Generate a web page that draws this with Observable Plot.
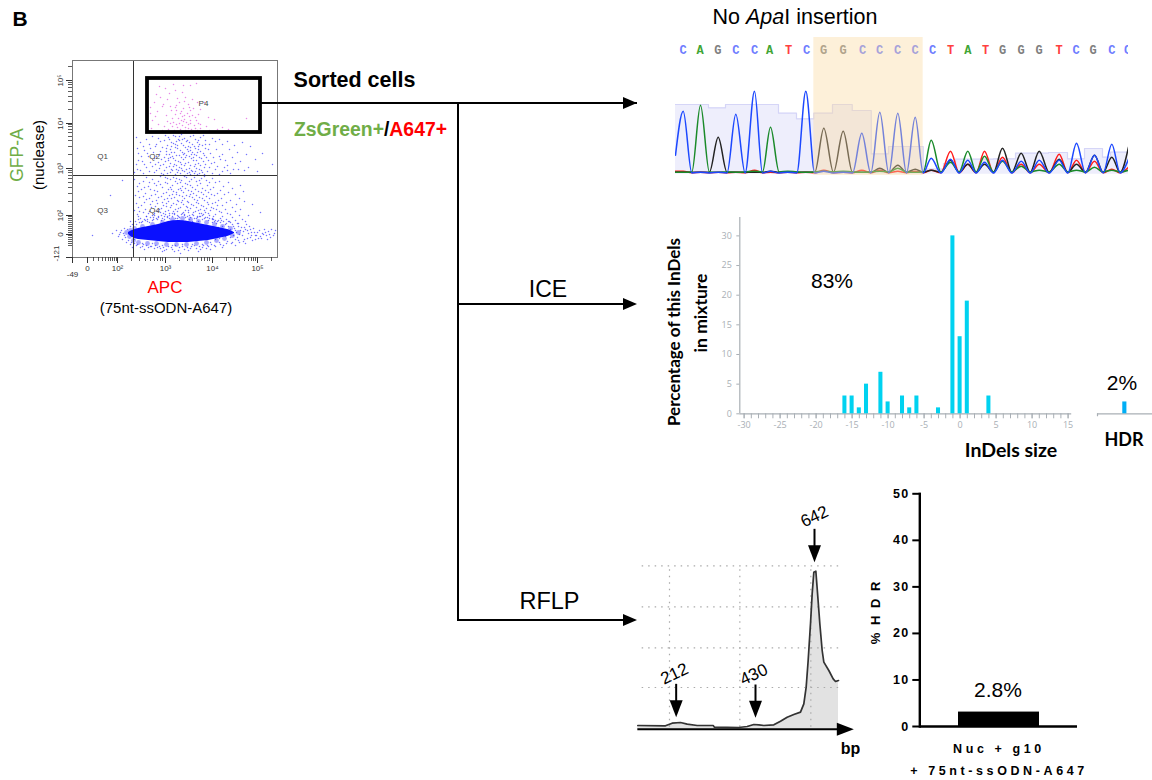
<!DOCTYPE html>
<html><head><meta charset="utf-8">
<script src="https://cdn.jsdelivr.net/npm/d3@7"></script>
<script src="https://cdn.jsdelivr.net/npm/@observablehq/plot@0.6"></script>
<style>
html,body{margin:0;padding:0;background:#fff}
#page{position:relative;width:1152px;height:780px;overflow:hidden;font-family:"Liberation Sans",Arial,sans-serif;color:#000}
#page>svg,#page>figure{position:absolute;margin:0;background:transparent}
.t{position:absolute;white-space:nowrap;transform-origin:center}
.ln{position:absolute;background:#000}
.hd{position:absolute;width:0;height:0;border-left:14px solid #000;border-top:6.5px solid transparent;border-bottom:6.5px solid transparent}
.hdrbar g[aria-label="x-axis tick label"] text{letter-spacing:3.6px}
.hdrbar g[aria-label="y-axis tick label"] text{letter-spacing:1.5px}
</style></head><body><div id="page"></div>
<script>
// ---------- flow cytometry (APC channel, GFP channel) ----------
const p4Cells=[[124,174],[101,173],[87,171],[93,169],[103,167],[110,165],[118,172],[111,172],[84,163],[97,164],[105,159],[113,160],[90,151],[91,153],[78,150],[103,150],[111,149],[118,147],[108,144],[103,143],[115,144],[120,142],[78,144],[85,146],[94,142],[100,139],[106,139],[112,138],[118,137],[124,137],[98,134],[104,133],[110,132],[116,133],[122,132],[128,133],[134,131],[92,131],[86,133],[80,137],[79,129],[90,127],[96,128],[102,127],[108,128],[113,127],[119,128],[125,127],[131,126],[137,127],[145,128],[150,130],[156,128],[174,139],[128,148],[132,155],[125,155],[136,140],[142,138],[107,155],[95,158],[116,153],[120,158],[82,155],[88,160],[99,147],[104,147],[109,137],[114,135],[121,149],[126,143],[117,141],[112,142],[105,130],[100,131],[95,136],[107,134],[113,130],[118,134],[123,129],[111,136],[106,126],[115,126],[121,126],[101,135],[126,134],[109,146],[117,150],[104,152],[112,156],[98,151],[83,141],[123,140],[116,129],[110,141],[128,129]];
const q2Cells=[[96,120],[101,122],[107,121],[112,119],[118,121],[123,118],[128,120],[133,117],[92,117],[86,119],[80,121],[74,118],[68,115],[64,120],[140,119],[147,118],[155,116],[162,112],[170,115],[178,111],[190,104],[200,93],[99,115],[104,116],[109,114],[114,116],[120,113],[125,115],[130,112],[95,112],[90,110],[84,113],[78,109],[72,107],[66,104],[98,108],[103,110],[108,107],[113,110],[118,107],[123,109],[128,106],[133,109],[138,104],[144,108],[150,103],[160,100],[168,96],[97,103],[102,105],[107,102],[112,104],[117,101],[122,103],[127,100],[132,102],[92,100],[87,103],[82,99],[76,101],[70,96],[64,93],[136,97],[142,95],[148,98],[155,92],[176,90],[185,86],[96,97],[101,99],[106,96],[111,98],[116,95],[121,97],[126,94],[131,96],[91,93],[86,95],[80,91],[74,90],[68,87],[62,85],[137,90],[143,88],[150,86],[158,84],[166,88],[97,91],[102,93],[107,90],[112,92],[117,89],[122,91],[127,88],[132,90],[92,87],[87,89],[82,85],[100,87],[105,85],[110,87],[115,84],[120,86],[125,83],[130,85],[95,84],[103,83],[113,82],[118,83],[123,86],[110,118],[105,112],[116,111],[100,101],[119,99],[109,93],[104,88],[124,102],[94,106],[126,111]];
const q2More=[[103,121],[109,123],[115,117],[121,122],[126,117],[97,118],[93,122],[88,116],[83,111],[77,113],[71,111],[65,109],[131,122],[137,113],[143,116],[150,113],[157,108],[165,105],[174,103],[183,98],[101,114],[106,118],[111,112],[117,115],[122,111],[127,113],[133,113],[94,109],[88,106],[81,105],[75,104],[69,101],[99,111],[105,109],[110,105],[115,108],[120,105],[126,108],[131,104],[136,108],[141,100],[147,101],[153,97],[163,94],[172,87],[94,103],[99,105],[104,102],[109,100],[114,102],[119,103],[124,97],[129,99],[134,100],[89,98],[84,101],[78,95],[72,93],[66,97],[139,94],[145,91],[152,90],[161,88],[93,96],[98,94],[103,97],[108,95],[113,94],[118,92],[123,93],[128,92],[133,93],[88,92],[83,93],[77,86],[71,84],[65,88],[135,86],[140,84],[147,83],[155,87],[94,90],[99,88],[104,92],[109,89],[114,88],[119,87],[124,89],[129,87],[89,84],[84,87],[98,85],[108,84],[112,86],[117,85],[122,84],[127,84],[132,83],[91,83],[101,91],[106,87],[96,99],[111,103],[116,106],[121,100],[103,113],[113,100],[125,105],[107,117],[98,100],[118,110]];
const q4Cells=[[93,80],[98,78],[104,79],[109,77],[114,80],[119,78],[124,76],[129,79],[134,77],[86,76],[80,78],[74,80],[67,74],[62,78],[140,79],[147,76],[156,75],[168,72],[50,77],[38,62],[95,74],[100,72],[105,74],[110,71],[115,73],[120,70],[125,72],[130,69],[135,72],[90,70],[84,72],[78,68],[72,70],[66,66],[141,70],[148,67],[156,65],[163,63],[96,68],[101,66],[106,68],[111,65],[116,67],[121,64],[126,66],[131,63],[136,65],[91,64],[85,66],[79,62],[73,64],[67,60],[64,54],[142,62],[149,59],[158,57],[172,56],[97,62],[102,60],[107,62],[112,59],[117,61],[122,58],[127,60],[132,57],[137,59],[92,58],[86,60],[80,56],[74,58],[69,52],[143,55],[150,52],[160,50],[168,48],[180,53],[96,56],[101,54],[106,56],[111,53],[116,55],[121,52],[126,54],[131,51],[136,53],[91,52],[85,54],[79,50],[73,48],[67,46],[141,49],[147,46],[155,44],[176,42],[188,45],[98,50],[103,48],[108,50],[113,47],[118,49],[123,46],[128,48],[133,45],[138,47],[93,46],[87,48],[82,44],[76,44],[143,43],[150,41],[160,40],[170,38],[100,44],[105,42],[110,44],[115,41],[120,43],[125,40],[130,42],[135,40],[95,41],[89,42],[84,39],[78,40],[72,38],[66,41],[140,38],[146,37],[156,36],[108,75],[113,69],[104,65],[118,63],[110,57],[99,59],[124,55],[115,50],[105,46],[127,44],[94,51],[88,45],[132,47],[103,39],[117,38],[97,44],[107,37],[126,36],[113,36],[92,38]];
const q4More=[[88,81],[95,79],[101,80],[107,78],[112,81],[117,76],[122,80],[127,77],[132,81],[137,75],[82,74],[77,75],[71,76],[65,71],[143,75],[151,71],[160,69],[171,66],[93,75],[98,70],[103,76],[108,69],[113,74],[118,72],[123,68],[128,74],[133,67],[88,73],[82,67],[76,71],[69,68],[63,62],[138,68],[145,64],[152,63],[167,59],[94,65],[99,68],[104,63],[109,67],[114,62],[119,66],[124,62],[129,65],[134,61],[89,61],[83,63],[77,59],[71,61],[139,63],[146,57],[154,55],[164,53],[95,59],[100,63],[105,57],[110,61],[115,56],[120,60],[125,57],[130,59],[135,55],[90,55],[84,57],[78,53],[72,55],[66,50],[62,47],[140,54],[145,52],[153,48],[163,46],[94,54],[99,52],[104,53],[109,55],[114,51],[119,53],[124,50],[129,52],[134,49],[89,49],[83,51],[77,46],[71,45],[65,43],[139,50],[144,48],[149,45],[158,43],[167,42],[96,47],[101,46],[106,49],[111,45],[116,47],[121,45],[126,47],[131,43],[136,44],[91,44],[85,46],[80,42],[74,41],[68,39],[141,41],[148,39],[154,38],[163,37],[173,36],[97,42],[102,44],[107,40],[112,43],[117,42],[122,39],[127,41],[132,39],[137,42],[92,41],[86,40],[81,38],[75,36],[69,35],[143,37],[151,36],[158,35],[166,34]];
const haloCells=[[70,36],[75,38],[80,37],[85,38],[90,39],[95,40],[100,41],[106,41],[112,42],[118,40],[124,39],[130,38],[136,37],[142,36],[148,35],[154,34],[160,33],[166,31],[172,30],[178,28],[64,33],[58,31],[52,29],[48,25],[46,21],[50,18],[54,15],[58,13],[64,12],[70,11],[76,10],[82,9],[88,9],[94,8],[100,8],[106,7],[112,8],[118,9],[124,9],[130,10],[136,11],[142,12],[148,13],[154,14],[160,15],[166,17],[172,18],[178,20],[184,22],[190,24],[196,26],[202,24],[198,20],[192,28],[186,19],[176,24],[170,22],[164,25],[158,20],[162,29],[168,27],[174,33],[156,31],[182,25],[188,21],[194,22],[180,17],[173,14],[163,12],[150,10],[138,8],[126,6],[108,4],[90,6],[72,8],[60,10],[52,22],[44,27],[40,24],[20,22],[58,36],[66,38],[74,41],[82,42],[150,31],[140,39],[120,36],[128,41]];
const haloMore=[[47,23],[49,27],[51,24],[53,20],[55,28],[56,17],[57,25],[59,15],[60,33],[62,14],[63,36],[65,13],[67,35],[68,10],[71,13],[73,37],[74,12],[77,35],[79,11],[81,40],[83,12],[86,41],[87,11],[89,37],[91,10],[93,43],[96,11],[97,39],[99,10],[102,43],[103,12],[105,39],[107,10],[109,43],[110,11],[113,40],[115,10],[116,45],[119,11],[121,42],[122,12],[125,41],[127,11],[129,44],[131,12],[133,40],[135,12],[137,39],[139,13],[141,38],[143,11],[145,36],[147,15],[149,37],[151,12],[153,33],[155,16],[157,36],[159,14],[161,31],[163,18],[165,34],[167,15],[169,30],[171,16],[173,28],[175,19],[177,31],[179,22],[181,29],[183,18],[185,25],[187,27],[189,19],[191,23],[193,25],[195,18],[197,23],[199,28],[201,22],[203,27],[155,27],[157,23],[149,27],[161,22],[165,20],[167,23],[171,26],[175,27],[179,25],[183,22],[163,27],[153,21],[147,19],[143,18],[138,15],[130,13],[120,13],[110,13],[100,12],[90,12],[80,14],[70,14],[62,18],[152,25],[158,28],[146,30],[148,22],[144,34],[140,35],[78,11],[85,10],[92,7],[102,6],[116,7],[128,8],[134,9]];
// outline of the saturated event population, read per APC channel
const coreApc=[56,60,66,76,86,96,106,116,126,136,146,155,162];
const coreGfpHigh=[25,27,29,31,33,36,37,36,34,32,30,28,25];
const coreGfpLow=[23,20,18,17,16,15,15,15,16,17,19,21,24];
const fringeCells=[[54,25],[57,21],[61,17],[66,15],[75,14],[84,14],[94,13],[104,13],[114,13],[124,14],[134,15],[144,17],[152,19],[160,22],[166,25],[158,29],[150,31],[142,33],[134,35],[126,36],[118,38],[110,39],[100,38],[90,35],[80,33],[70,31],[62,29],[58,27]];
const gfpMajor=[[23,"0"],[42,"10²"],[89,"10³"],[134,"10⁴"],[177,"10⁵"]];
const gfpEdge=[[0,"-121"]];
const gfpMinor=[12,14,16,18,20,22,25,27,29,31,33,35,37,39,41,56,64,70,75,79,82,85,87,103,111,117,121,125,128,131,133,148,156,161,166,170,173,175,191];
const apcMajor=[[15,"0"],[45,"10²"],[93,"10³"],[140,"10⁴"],[185,"10⁵"]];
const apcEdge=[[0,"-49"]];
const apcMinor=[21,26,30,33,36,38,40,42,44,59,67,73,78,82,85,88,90,107,115,120,125,129,132,135,137,154,162,167,172,176,179,181,183,199];
const quadrants=[["Q1",30,101],["Q2",82,101],["Q3",30,47],["Q4",82,47],["P4",131,154]];

// ---------- chromatogram ----------
const baseCalls=["C","A","G","C","C","A","T","C","G","G","C","C","C","C","C","T","A","T","G","G","G","T","C","G","C","C"];
const baseScan=[7.7,24.5,42.3,60.3,79,94,113,131,148,167.5,187,204,222,239.5,257,275,292.3,310,327,345.5,363.5,383.5,400.5,417.5,436.3,452];
const peakScan=[7.7,25,42.7,60.3,79,95,112.3,130.3,148.3,167.7,186.3,204.3,222.3,239.7,255.7,275,292.3,309,327,345.7,363.7,383.7,401,419,436.3,453];
const blueSignal=[62,1,1,59,82,2,1,82,2,1,40,61,60,56,15,14,13,11,13,12,13,13,30,18,29,14];
const greenSignal=[1,68,1,1,2,46,2,1,2,2,1,2,5,1,33,11,22,17,12,7,3,9,3,6,3,3];
const blackSignal=[1,1,36,1,1,2,1,1,45,42,1,5,8,4,3,13,9,9,25,20,22,14,9,18,16,26];
const redSignal=[2,1,1,1,3,1,1,1,3,1,3,3,2,2,3,22,9,22,16,9,9,19,13,12,4,6];
const qualScan=[0,33,50,103,121,138.3,157,176.7,195.7,213,247.7,268,280,318,340,373,392,409,427,435,453];
const qualValue=[68.7,65.4,68.7,60,54.4,60,68.7,62.7,19.4,26.7,4,9.7,14,14.4,20,20.7,14.4,24.7,16,21,25];

// ---------- ICE ----------
const indelSize=[-16,-15,-14,-13,-11,-10,-8,-7,-6,-3,-1,0,1,4];
const indelPct=[3,3,1,5,7,2,3,1,3,1,30,13,19,3];
const indelTicks=[-30,-29,-28,-27,-26,-25,-24,-23,-22,-21,-20,-19,-18,-17,-16,-15,-14,-13,-12,-11,-10,-9,-8,-7,-6,-5,-4,-3,-2,-1,0,1,2,3,4,5,6,7,8,9,10,11,12,13,14,15];
const indelLabels=[-30,-25,-20,-15,-10,-5,0,5,10,15];
const pctTicks=[0,5,10,15,20,25,30];
const hdrIce=2;

// ---------- RFLP electropherogram (migration, signal) ----------
const migration=[22,105,125,150,170,200,248,252,325,350,370,385,400,430,450,470,490,510,520,527,533,540,545,550,556,562,568,575,580,595,608,615,624];
const rfu=[11,10,18,20,15,11,11,6,5,8,14,13,11,13,24,36,44,51,76,126,206,316,406,471,474,396,316,236,201,176,151,143,146];
const gridMigration=[117,328,541];
const gridSignal=[490,367,244,125];
const fragments=[["212",137,136],["430",375,134],["642",552,601]];

// ---------- %HDR bar ----------
const hdrCategory=["Nuc + g10\n+ 75nt-ssODN-A647"];
const hdrPct=[3.1];
const hdrTicks=[0,10,20,30,40,50];

const page=document.getElementById("page");
function place(svg,x,y){svg.style.left=x+"px";svg.style.top=y+"px";page.appendChild(svg);}
function txt(html,x,y,css=""){const d=document.createElement("div");d.className="t";d.innerHTML=html;d.style.cssText=`left:${x}px;top:${y}px;`+css;d.style.transform="translate(-50%,-50%)";page.appendChild(d);return d;}
function vtxt(html,x,y,css=""){const d=txt(html,x,y,css);d.style.transform="translate(-50%,-50%) rotate(-90deg)";return d;}
function ln(x,y,w,h){const d=document.createElement("div");d.className="ln";d.style.cssText=`left:${x}px;top:${y}px;width:${w}px;height:${h}px`;page.appendChild(d);}
function head(x,y){const d=document.createElement("div");d.className="hd";d.style.left=(x-14)+"px";d.style.top=(y-6.5)+"px";page.appendChild(d);}

// ---------- flow panel ----------
const cell=([x,y])=>({x,y});
const tickGray="#333";
const speck={x:"x",y:"y",r:0.75,fill:"#2a2aff",fillOpacity:.65};
const core=coreApc.map((x,i)=>({x,hi:coreGfpHigh[i],lo:coreGfpLow[i]}));
place(Plot.plot({
  width:240,height:235,marginLeft:27,marginRight:8,marginTop:10,marginBottom:28,
  style:{fontFamily:"Liberation Sans",background:"transparent"},
  x:{domain:[0,205],axis:null},y:{domain:[0,197],axis:null},
  marks:[
    Plot.dot(haloCells.concat(haloMore).map(cell),speck),
    Plot.dot(q4Cells.concat(q4More).map(cell),speck),
    Plot.dot(q2Cells.concat(q2More).map(cell),speck),
    Plot.dot(fringeCells.map(cell),{x:"x",y:"y",r:2.4,fill:"#2a2aff",fillOpacity:.4}),
    Plot.areaY(core,{x:"x",y1:"lo",y2:"hi",curve:"catmull-rom",fill:"#0a10ff"}),
    Plot.dot(p4Cells.map(cell),{x:"x",y:"y",r:0.75,fill:"#e060e0",fillOpacity:.75}),
    Plot.ruleX([61],{stroke:"#333",strokeWidth:1}),
    Plot.ruleY([82],{stroke:"#333",strokeWidth:1}),
    Plot.frame({stroke:"#777",strokeWidth:1}),
    Plot.rect([0],{x1:()=>75,x2:()=>188,y1:()=>125,y2:()=>179,stroke:"#000",strokeWidth:3.8,fill:"none"}),
    Plot.text(quadrants,{x:d=>d[1],y:d=>d[2],text:d=>d[0],fontSize:8,fill:"#444"}),
    Plot.ruleX(apcMajor.concat(apcEdge),{x:d=>d[0],y1:()=>-6,y2:()=>0,stroke:tickGray,strokeWidth:1}),
    Plot.ruleX(apcMinor,{y1:()=>-4,y2:()=>0,stroke:tickGray,strokeWidth:.8}),
    Plot.ruleY(gfpMajor.concat(gfpEdge),{y:d=>d[0],x1:()=>-6,x2:()=>0,stroke:tickGray,strokeWidth:1}),
    Plot.ruleY(gfpMinor,{x1:()=>-4,x2:()=>0,stroke:tickGray,strokeWidth:.8}),
    Plot.text(apcMajor,{x:d=>d[0],y:()=>-11,text:d=>d[1],fontSize:8,fill:"#333"}),
    Plot.text(apcEdge,{x:d=>d[0],y:()=>-17,text:d=>d[1],fontSize:8,fill:"#333"}),
    Plot.text(gfpMajor,{x:()=>-12,y:d=>d[0],text:d=>d[1],rotate:-90,fontSize:8,fill:"#333"}),
    Plot.text(gfpEdge,{x:()=>-16,y:()=>4,text:d=>d[1],rotate:-90,fontSize:8,fill:"#333"})
  ]
}),45,50);

// ---------- chromatogram panel ----------
const trace=(heights,floor)=>peakScan.flatMap((s,i)=>{
  const next=peakScan[i+1];
  const pts=[{s,h:heights[i]}];
  if(next!==undefined) pts.push({s:(s+next)/2,h:floor});
  return pts;
});
const traceStart=(heights,first,floor)=>[{s:0,h:first},...trace(heights,floor)];
const callColor={C:"#6f7dff",A:"#3fa535",G:"#808080",T:"#ff4040"};
const qual=qualScan.map((s,i)=>({s,q:qualValue[i]}));
const traceStyle={x:"s",y:"h",curve:"monotone-x",strokeWidth:1.5,clip:true};
place(Plot.plot({
  width:453,height:141,margin:0,
  style:{background:"transparent"},
  x:{domain:[0,453],axis:null},y:{domain:[-5.3,135.7],axis:null},
  marks:[
    Plot.areaY(qual,{x:"s",y1:()=>-1,y2:"q",curve:"step-after",fill:"#eeeefc"}),
    Plot.lineY(qual,{x:"s",y:"q",curve:"step-after",stroke:"#d5d5f7",strokeWidth:1.2}),
    Plot.line(traceStart(redSignal,2,.4),{...traceStyle,stroke:"#ff1c1c"}),
    Plot.line(traceStart(blackSignal,1,.9),{...traceStyle,stroke:"#222"}),
    Plot.line(traceStart(greenSignal,1,1.3),{...traceStyle,stroke:"#1a8a2a"}),
    Plot.line(traceStart(blueSignal,18,.2),{...traceStyle,stroke:"#1c48ff"}),
    Plot.text(baseCalls,{x:(d,i)=>baseScan[i],y:()=>122.7,text:d=>d,fill:d=>callColor[d],fontFamily:"Liberation Mono",fontWeight:"bold",fontSize:12,clip:true}),
    Plot.rect([0],{x1:()=>138.3,x2:()=>247.7,y1:()=>-2.3,y2:()=>135.7,fill:"#fbd9a0",fillOpacity:.4})
  ]
}),675,37);

// ---------- ICE panel ----------
const iceGray="#a9afb5";
place(Plot.plot({
  width:385,height:235,marginLeft:39.3,marginRight:13.8,marginTop:12,marginBottom:26.7,
  style:{fontFamily:"Open Sans",background:"transparent"},
  x:{domain:[-30.6,15.5],axis:null},y:{domain:[0,33.1],axis:null},
  marks:[
    Plot.ruleY([0],{stroke:iceGray,strokeWidth:1.2}),
    Plot.ruleX([-30.6],{stroke:iceGray,strokeWidth:1.2}),
    Plot.axisX({ticks:indelTicks,tickFormat:()=>"",tickSize:5,stroke:iceGray,label:null}),
    Plot.axisX({ticks:indelLabels,tickSize:5,tickPadding:3,fontSize:9,fill:iceGray,stroke:iceGray,label:null,tickFormat:d=>String(d)}),
    Plot.axisY({ticks:pctTicks,tickSize:3,tickPadding:5,fontSize:9,fill:iceGray,stroke:iceGray,label:null,anchor:"left"}),
    Plot.rectY(indelSize,{x1:d=>d-.28,x2:d=>d+.28,y1:()=>0,y2:(d,i)=>indelPct[i],fill:"#00d2f0"})
  ]
}),700,205);
place(Plot.plot({
  width:56,height:25,margin:0,marginBottom:6.7,marginLeft:1,
  style:{background:"transparent"},
  x:{domain:[0,53.3],axis:null},y:{domain:[0,3.09],axis:null},
  marks:[
    Plot.ruleY([0],{stroke:iceGray,strokeWidth:1.2}),
    Plot.ruleX([0],{y1:()=>-.5,y2:()=>0,stroke:iceGray,strokeWidth:1.2}),
    Plot.rectY([hdrIce],{x1:()=>24.5,x2:()=>28.5,y1:()=>0,y2:d=>d,fill:"#00aef5"})
  ]
}),1095.7,395);

// ---------- RFLP panel ----------
const epg=migration.map((m,i)=>({m,s:rfu[i]}));
const arrowHead={draw(c){c.moveTo(-6.5,-17);c.lineTo(6.5,-17);c.lineTo(0,0);c.closePath();}};
place(Plot.plot({
  width:230,height:280,margin:0,
  style:{fontFamily:"Liberation Sans",background:"transparent"},
  x:{domain:[0,690],axis:null},y:{domain:[-124,716],axis:null},
  marks:[
    Plot.areaY(epg,{x:"m",y:"s",fill:"#e2e2e2"}),
    Plot.ruleX(gridMigration,{y1:()=>6,y2:()=>490,stroke:"#aaa",strokeDasharray:"1.5 5",strokeWidth:1.2}),
    Plot.ruleY(gridSignal,{x1:()=>35,x2:()=>625,stroke:"#aaa",strokeDasharray:"1.5 5",strokeWidth:1.2}),
    Plot.lineY(epg,{x:"m",y:"s",stroke:"#333",strokeWidth:1.7}),
    Plot.ruleY([0],{x1:()=>22,x2:()=>640,stroke:"#000",strokeWidth:2}),
    Plot.vector([0],{x:()=>670,y:()=>0,anchor:"start",length:()=>1,rotate:-90,shape:arrowHead,fill:"#000",stroke:"none"}),
    Plot.link(fragments,{x1:d=>d[1],x2:d=>d[1],y1:d=>d[2],y2:d=>d[2]-60,stroke:"#000",strokeWidth:2}),
    Plot.vector(fragments,{x:d=>d[1],y:d=>d[2]-100,anchor:"start",length:()=>1,rotate:0,shape:arrowHead,fill:"#000",stroke:"none"}),
    Plot.text(fragments,{x:d=>d[1]-(d[0]==="642"?0:5),y:d=>d[2]+(d[0]==="642"?37:30),text:d=>d[0],rotate:-25,fontSize:17,fill:"#000"}),
    Plot.text(["bp"],{x:()=>660,y:()=>-59,text:d=>d,fontWeight:"bold",fontSize:16,fill:"#000"})
  ]
}),630,490);

// ---------- %HDR bar ----------
place(Plot.plot({
  width:250,height:300,marginLeft:57.3,marginRight:35,marginTop:13.3,marginBottom:54,
  className:"hdrbar",
  style:{fontFamily:"Liberation Sans",background:"transparent",color:"#000"},
  x:{domain:hdrCategory,padding:.317,axis:null},
  y:{domain:[0,50],axis:null},
  marks:[
    Plot.axisY({ticks:hdrTicks,tickSize:7,tickPadding:3,fontSize:12.5,fontWeight:"bold",strokeWidth:2,label:null}),
    Plot.frame({anchor:"left",stroke:"#000",strokeWidth:2.4}),
    Plot.ruleY([0],{stroke:"#000",strokeWidth:2.6}),
    Plot.barY(hdrCategory,{x:d=>d,y:(d,i)=>hdrPct[i],fill:"#000"}),
    Plot.axisX({tickSize:0,tickPadding:11,fontSize:12.5,fontWeight:"bold",lineHeight:1.76,label:null})
  ]
}),862,480);

// ---------- connectors ----------
ln(261,102,376,2);ln(457,103,2,518);ln(458,303,172,2);ln(458,619,172,2);
head(637,103);head(637,304);head(637,620);

// ---------- labels ----------
txt("B",20,19,"font-size:21px;font-weight:bold");
txt("Sorted cells",354.5,80,"font-size:21.5px;font-weight:bold");
txt('<span style="color:#70ad47">ZsGreen+</span>/<span style="color:#ff0000">A647+</span>',370.5,129,"font-size:19.4px;font-weight:bold");
txt("ICE",548,289,"font-size:23px");
txt("RFLP",549.5,601,"font-size:23.5px");
txt("No <i>Apa</i>I insertion",795,17,"font-size:21.5px");
vtxt("GFP-A",17,155,"font-size:17.5px;color:#70ad47");
vtxt("(nuclease)",38,155,"font-size:15px");
txt("APC",165,288,"font-size:17px;color:#ff0000");
txt("(75nt-ssODN-A647)",166,307,"font-size:15px");
vtxt("Percentage of this InDels",673,332,'font-size:17px;font-weight:bold;font-family:Lato');
vtxt("in mixture",700,313,'font-size:17.5px;font-weight:bold;font-family:Lato');
txt("83%",832,281,"font-size:21px");
txt("2%",1122,383,"font-size:21px");
txt("InDels size",1011,449,'font-size:19.5px;font-weight:bold;font-family:Lato');
txt("HDR",1124,439,'font-size:18px;font-weight:bold;font-family:Lato');
txt("2.8%",998,690,"font-size:21px");
vtxt("% H D R",875,612,"font-size:13px;font-weight:bold;letter-spacing:2px");
</script>
</body></html>
